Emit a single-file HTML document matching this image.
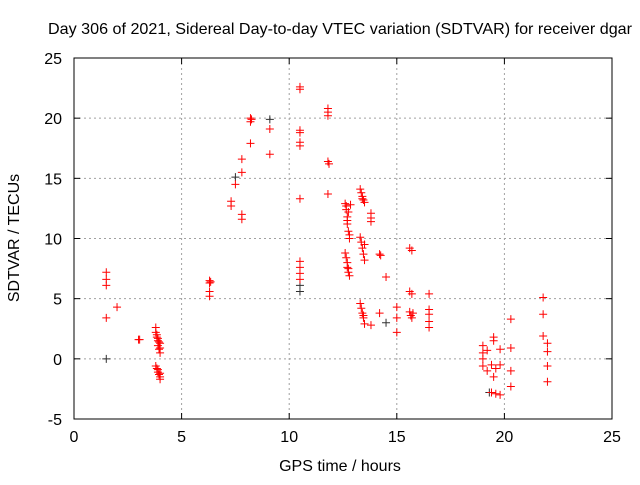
<!DOCTYPE html>
<html><head><meta charset="utf-8"><style>
body{margin:0;background:#fff;font-family:"Liberation Sans",sans-serif}
svg text{font-family:"Liberation Sans",sans-serif;font-size:16px;fill:#000}
</style></head><body>
<svg id="chart" width="640" height="480">
<text x="340" y="34" text-anchor="middle" textLength="584" lengthAdjust="spacingAndGlyphs">Day 306 of 2021, Sidereal Day-to-day VTEC variation (SDTVAR) for receiver dgar</text>
<text x="340" y="471" text-anchor="middle">GPS time / hours</text>
<text transform="translate(19,238) rotate(-90)" text-anchor="middle">SDTVAR / TECUs</text>
<g id="grid"></g><g id="marks"></g>
<rect x="74" y="58" width="538" height="361" fill="none" stroke="#000"/>
</svg>
<script>
const xTicks=[0,5,10,15,20,25];
const yTicks=[-5,0,5,10,15,20,25];
const redX=[1.5,1.5,1.5,1.5,2.0,3.0,3.05,3.8,3.8,3.85,3.9,3.9,3.95,4.0,4.0,3.85,3.9,3.95,4.0,3.8,3.85,3.9,3.95,4.0,4.0,3.9,4.0,6.3,6.3,6.3,6.3,6.35,7.3,7.3,7.5,7.8,7.8,7.8,7.8,8.2,8.2,8.2,8.25,9.1,9.1,10.5,10.5,10.5,10.5,10.5,10.5,10.5,10.5,10.5,10.5,10.5,11.8,11.8,11.8,11.8,11.85,11.8,12.6,12.65,12.7,12.7,12.75,12.8,12.6,12.65,12.7,12.7,12.75,12.8,12.65,12.75,12.8,12.7,12.85,12.75,13.3,13.35,13.4,13.45,13.5,13.3,13.35,13.4,13.45,13.5,13.3,13.35,13.4,13.45,13.5,13.4,13.5,13.45,13.8,13.8,13.8,13.8,14.2,14.25,14.2,14.5,15.0,15.0,15.0,15.6,15.7,15.6,15.7,15.6,15.65,15.7,15.75,16.5,16.5,16.5,16.5,16.5,19.0,19.0,19.0,19.0,19.2,19.2,19.4,19.5,19.5,19.5,19.8,19.8,19.8,19.6,19.6,19.4,20.3,20.3,20.3,20.3,21.8,21.8,21.8,22.0,22.0,22.0,22.0];
const redY=[7.2,6.6,6.1,3.4,4.3,1.6,1.6,2.6,2.2,1.8,1.5,1.1,0.8,0.5,1.3,2.0,1.7,1.4,0.9,-0.6,-0.8,-1.1,-1.3,-1.5,-1.7,-0.9,-1.2,6.5,6.3,5.6,5.2,6.4,13.1,12.7,14.5,16.6,15.5,12.0,11.6,17.9,20.0,19.7,19.9,19.1,17.0,22.6,22.4,19.0,18.8,18.0,17.7,13.3,8.1,7.6,7.1,6.6,20.8,20.5,20.2,16.4,16.2,13.7,12.9,12.4,11.8,11.2,10.6,10.0,8.8,8.4,8.0,7.6,7.2,6.9,12.7,12.2,10.3,11.5,12.8,7.5,14.1,13.8,13.5,13.2,13.0,10.1,9.7,9.2,8.7,8.2,4.6,4.2,3.8,3.4,2.9,13.3,9.5,3.6,12.1,11.7,11.4,2.8,8.7,8.6,3.8,6.8,4.3,3.4,2.2,9.2,9.0,5.6,5.4,3.9,3.6,3.4,3.8,5.4,4.1,3.7,3.1,2.6,1.1,0.5,0.0,-0.6,0.7,-1.0,-0.5,1.8,1.5,-1.5,0.8,-0.5,-3.0,-2.9,-0.8,-2.8,3.3,0.9,-1.0,-2.3,5.1,3.7,1.9,1.3,0.6,-0.6,-1.9];
const darkX=[1.5,7.5,9.1,10.5,10.5,14.5,19.3];
const darkY=[0.0,15.1,19.9,6.1,5.6,3.0,-2.8];
const sx=v=>74+(v-0)/25*538, sy=v=>419-(v+5)/30*361;
const NS='http://www.w3.org/2000/svg';
const grid=document.getElementById('grid'), marks=document.getElementById('marks');
function mk(t,a,p){const e=document.createElementNS(NS,t);for(const k in a)e.setAttribute(k,a[k]);p.appendChild(e);return e;}
xTicks.forEach(t=>{const x=sx(t);
 if(t>0&&t<25){const l=mk('line',{x1:x,x2:x,y1:58,y2:419,stroke:'#a0a0a0','stroke-dasharray':'2,3'},grid);
 
 }
 mk('line',{x1:x,x2:x,y1:419,y2:413,stroke:'#000'},grid);mk('line',{x1:x,x2:x,y1:58,y2:64,stroke:'#000'},grid);
 const tx=mk('text',{x:x,y:442,'text-anchor':'middle'},grid);tx.textContent=t;
 
 });
yTicks.forEach(t=>{const y=sy(t);
 if(t>-5&&t<25){const l=mk('line',{x1:74,x2:612,y1:y,y2:y,stroke:'#a0a0a0','stroke-dasharray':'2,3'},grid);
 
 }
 mk('line',{x1:74,x2:80,y1:y,y2:y,stroke:'#000'},grid);mk('line',{x1:612,x2:606,y1:y,y2:y,stroke:'#000'},grid);
 const tx=mk('text',{x:62,y:y+6,'text-anchor':'end'},grid);tx.textContent=t;
 
 });
function plus(xv,yv,c){const x=sx(xv),y=sy(yv);
 const g=mk('path',{d:`M${x-4} ${y}H${x+4}M${x} ${y-4}V${y+4}`,stroke:c,'stroke-width':1,fill:'none'},marks);
 
 }
darkX.forEach((v,i)=>plus(v,darkY[i],'#303030'));
redX.forEach((v,i)=>plus(v,redY[i],'#ff0000'));
</script>
</body></html>
